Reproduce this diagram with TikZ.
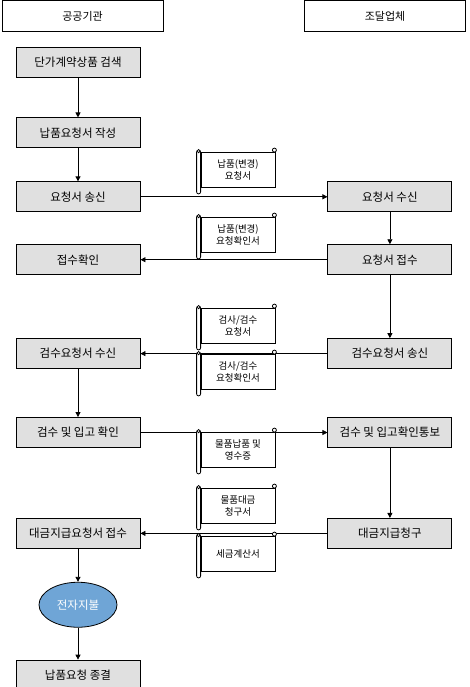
\documentclass[tikz,border=0pt]{standalone}
\usepackage{fontspec}
\setmainfont{Noto Sans CJK KR}
\usetikzlibrary{shapes.geometric, arrows.meta, positioning}
\definecolor{boxgray}{RGB}{224,224,224}
\definecolor{paybl}{RGB}{111,165,214}

% roll and curls around a document note
\newcommand{\scrollroll}[1]{%
  \draw[line width=0.8pt, fill=white, rounded corners=2pt]
    ([xshift=-4pt,yshift=2pt]#1.north west) rectangle ([yshift=-6pt]#1.south west);
  \draw[line width=0.8pt, fill=white] ([xshift=-2pt,yshift=1pt]#1.north west) circle (1.6pt);
  \draw[line width=0.8pt, fill=white] ([xshift=-1pt,yshift=2pt]#1.north east) circle (2pt);
}

\begin{document}
\begin{tikzpicture}[x=1pt, y=-1pt,
  header/.style={rectangle, draw=black, line width=0.8pt, minimum width=161pt, minimum height=31pt,
    inner sep=0pt, text centered, font=\fontsize{11}{12}\selectfont},
  stepbox/.style={rectangle, draw=black, line width=0.9pt, minimum width=124pt, minimum height=30pt,
    inner sep=0pt, text centered, fill=boxgray, font=\fontsize{11.5}{12}\selectfont},
  paynode/.style={ellipse, draw=black, line width=0.8pt, minimum width=78pt, minimum height=45pt,
    inner sep=0pt, fill=paybl, text=white, font=\fontsize{11.5}{12}\selectfont},
  docnote/.style={rectangle, draw=black, line width=0.8pt, fill=white, minimum width=74pt, minimum height=35pt,
    inner sep=0pt, align=center, font=\fontsize{9.5}{12.5}\selectfont},
  arrow/.style={-{Triangle[length=5pt, width=5pt]}, line width=0.8pt}
]
\useasboundingbox (0,0) rectangle (469,687);

% 열 머리
\node (hdrA) [header] at (82.5,16) {공공기관};
\node (hdrB) [header] at (385,16) {조달업체};

% 공공기관 (왼쪽)
\node (search) [stepbox] at (78,62) {단가계약상품 검색};
\node (write) [stepbox, below=40pt of search] {납품요청서 작성};
\node (send) [stepbox, below=33pt of write] {요청서 송신};
\node (confirm) [stepbox, below=32pt of send] {접수확인};
\node (recv) [stepbox, below=63pt of confirm] {검수요청서 수신};
\node (inspect) [stepbox, below=48pt of recv] {검수 및 입고 확인};
\node (payreq) [stepbox, below=70pt of inspect] {대금지급요청서 접수};
\node (epay) [paynode, below=33pt of payreq] {전자지불};
\node (close) [stepbox, below=32pt of epay] {납품요청 종결};

% 조달업체 (오른쪽)
\node (reqrecv) [stepbox, right=187pt of send] {요청서 수신};
\node (reqaccept) [stepbox, right=187pt of confirm] {요청서 접수};
\node (inspsend) [stepbox, right=187pt of recv] {검수요청서 송신};
\node (inspnotify) [stepbox, right=187pt of inspect] {검수 및 입고확인통보};
\node (claim) [stepbox, right=187pt of payreq] {대금지급청구};

% 화살표
\draw [arrow] (search) -- (write);
\draw [arrow] (write) -- (send);
\draw [arrow] (send) -- (reqrecv);
\draw [arrow] (reqrecv) -- (reqaccept);
\draw [arrow] (reqaccept) -- (confirm);
\draw [arrow] (reqaccept) -- (inspsend);
\draw [arrow] (inspsend) -- (recv);
\draw [arrow] (recv) -- (inspect);
\draw [arrow] (inspect) -- (inspnotify);
\draw [arrow] (inspnotify) -- (claim);
\draw [arrow] (claim) -- (payreq);
\draw [arrow] (payreq) -- (epay);
\draw [arrow] (epay) -- (close);

% 문서
\node (doc1) [docnote] at (238,170) {납품(변경)\\요청서};
\scrollroll{doc1}
\node (doc2) [docnote] at (238,235) {납품(변경)\\요청확인서};
\scrollroll{doc2}
\node (doc3) [docnote] at (238,326) {검사/검수\\요청서};
\scrollroll{doc3}
\node (doc4) [docnote] at (238,372) {검사/검수\\요청확인서};
\scrollroll{doc4}
\node (doc5) [docnote] at (238,450) {물품납품 및\\영수증};
\scrollroll{doc5}
\node (doc6) [docnote] at (238,506) {물품대금\\청구서};
\scrollroll{doc6}
\node (doc7) [docnote] at (238,554) {세금계산서};
\scrollroll{doc7}

\end{tikzpicture}
\end{document}
